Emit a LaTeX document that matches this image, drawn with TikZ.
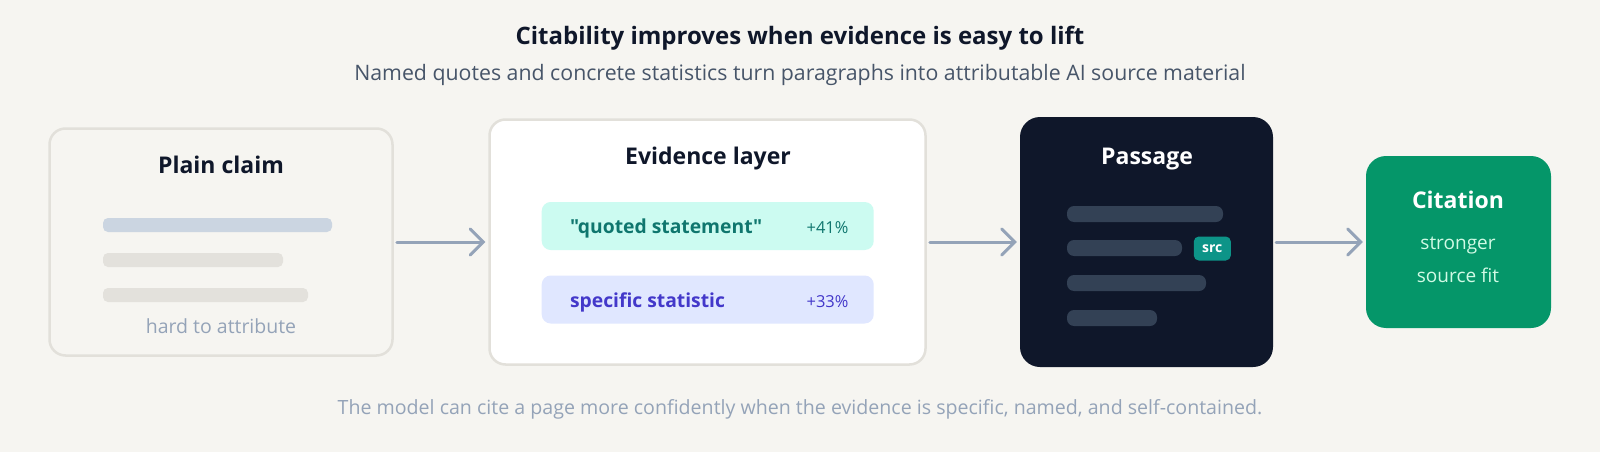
\documentclass[tikz,border=0pt]{standalone}
\usepackage{fontspec}
\setmainfont{Open Sans}[Ligatures=TeXOff]
\usetikzlibrary{arrows.meta}

\definecolor{paper}{HTML}{F6F5F1}
\definecolor{cardline}{HTML}{E2E0DA}
\definecolor{ink}{HTML}{0F172A}
\definecolor{subink}{HTML}{475569}
\definecolor{muted}{HTML}{94A3B8}
\definecolor{barblue}{HTML}{CBD5E1}
\definecolor{barsand}{HTML}{E3E1DC}
\definecolor{mint}{HTML}{CCFBF1}
\definecolor{teal}{HTML}{0F766E}
\definecolor{lavender}{HTML}{E0E7FF}
\definecolor{indigo}{HTML}{4338CA}
\definecolor{night}{HTML}{0F172A}
\definecolor{slate}{HTML}{334155}
\definecolor{badge}{HTML}{0D9488}
\definecolor{emerald}{HTML}{059669}
\definecolor{mintlight}{HTML}{D1FAE5}

\newcommand{\fsz}[1]{\fontsize{#1}{#1}\selectfont}

\tikzset{
  card/.style={draw=cardline, line width=2.5pt, rounded corners=16pt, inner sep=0pt},
  panel/.style={rounded corners=20pt, inner sep=0pt},
  heading/.style={anchor=base, font=\bfseries\fsz{23}, text=ink},
  pill/.style={rounded corners=9pt, inner sep=0pt, minimum width=332pt, minimum height=48pt},
  flow/.style={draw=muted, line width=3pt, line cap=round,
    -{Straight Barb[length=13pt,width=26pt,line cap=round]}, shorten <=3pt, shorten >=3pt},
}

\begin{document}
\begin{tikzpicture}[x=1pt,y=-1pt]
  \useasboundingbox[fill=paper] (0,0) rectangle (1600,452);

  % title lines
  \node[anchor=base, font=\bfseries\fsz{24}, text=ink] (title) at (800,45)
    {Citability improves when evidence is easy to lift};
  \node[anchor=base, font=\fsz{21.3}, text=subink] (subtitle) at (800,81)
    {Named quotes and concrete statistics turn paragraphs into attributable AI source material};

  % plain claim
  \node[card, fill=paper, minimum width=343pt, minimum height=227pt] (plain) at (221,242) {};
  \node[heading] (plainhead) at (221,173) {Plain claim};
  \fill[barblue, rounded corners=5pt] (103,218) rectangle (332,232);
  \fill[barsand, rounded corners=5pt] (103,253) rectangle (283,267);
  \fill[barsand, rounded corners=5pt] (103,288) rectangle (308,302);
  \node[anchor=base, font=\fsz{19.5}, text=muted] (hard) at (221,333) {hard to attribute};

  % evidence layer
  \node[card, fill=white, minimum width=436pt, minimum height=245pt] (evidence) at (707.5,242) {};
  \node[heading] (evidencehead) at (708,164) {Evidence layer};
  \node[pill, fill=mint] (quote) at (707.7,226) {};
  \node[anchor=base west, font=\bfseries\fsz{19.3}, text=teal] (quotetext) at (566.5,233) {"quoted statement"};
  \node[anchor=base east, font=\fsz{16.5}, text=teal] (quotepct) at (852,233) {+41\%};
  \node[pill, fill=lavender] (stat) at (707.7,299.5) {};
  \node[anchor=base west, font=\bfseries\fsz{19.3}, text=indigo] (stattext) at (566.5,307) {specific statistic};
  \node[anchor=base east, font=\fsz{16.5}, text=indigo] (statpct) at (852,307) {+33\%};

  % passage
  \node[panel, fill=night, minimum width=253pt, minimum height=250pt] (passage) at (1146.5,242) {};
  \node[heading, text=white] (passagehead) at (1147,164) {Passage};
  \fill[slate, rounded corners=7pt] (1067,206) rectangle (1223,222);
  \fill[slate, rounded corners=7pt] (1067,240) rectangle (1182,256);
  \fill[slate, rounded corners=7pt] (1067,275) rectangle (1206,291);
  \fill[slate, rounded corners=7pt] (1067,310) rectangle (1157,326);
  \node[fill=badge, rounded corners=5pt, inner sep=0pt, minimum width=37pt, minimum height=24pt,
    font=\bfseries\fsz{14}, text=white] (src) at (1212.3,248.5) {src};

  % citation
  \node[panel, fill=emerald, minimum width=185pt, minimum height=172pt] (citation) at (1458.5,242) {};
  \node[heading, text=white] (citationhead) at (1458,208) {Citation};
  \node[anchor=base, font=\fsz{19}, text=mintlight] (stronger) at (1458,249.5) {stronger};
  \node[anchor=base, font=\fsz{19}, text=mintlight] (sourcefit) at (1458,282.5) {source fit};

  \draw[flow] (plain) -- (evidence);
  \draw[flow] (evidence) -- (passage);
  \draw[flow] (passage) -- (citation);

  \node[anchor=base, font=\fsz{19.6}, text=muted] (note) at (800,414)
    {The model can cite a page more confidently when the evidence is specific, named, and self-contained.};
\end{tikzpicture}
\end{document}
